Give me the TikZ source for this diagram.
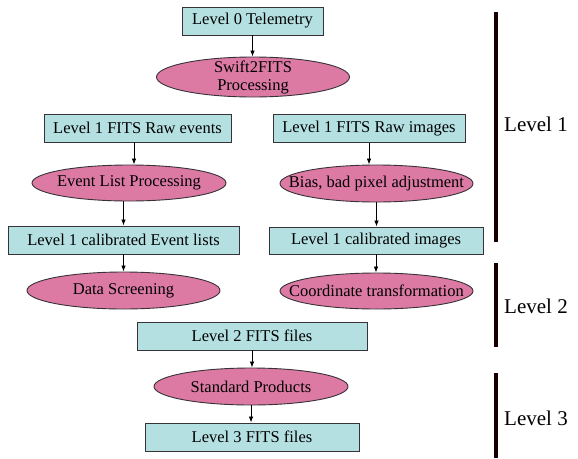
\documentclass[tikz,border=0pt]{standalone}
\usepackage{fontspec}
\setmainfont{Liberation Serif}
\newfontfamily\serf{Liberation Serif}
\usetikzlibrary{shapes.geometric,arrows.meta,backgrounds}
\definecolor{boxc}{RGB}{180,224,226}
\definecolor{ellc}{RGB}{220,122,164}
\definecolor{bordc}{RGB}{55,50,55}
\tikzset{
  stepbox/.style={draw=bordc, fill=boxc, line width=0.9pt, inner sep=0pt,
    minimum height=28pt, font=\serf\fontsize{16.5}{19}\selectfont, align=center},
  proctext/.style={font=\serf\fontsize{16.5}{19}\selectfont, align=center, inner sep=0pt},
  procell/.style={ellipse, draw=bordc, fill=ellc, line width=0.9pt, inner sep=0pt},
  arr/.style={draw=black, line width=0.8pt, -{Latex[length=6pt,width=4.5pt]}},
  levbar/.style={draw=black!90!red, line width=3.5pt},
  levlab/.style={anchor=west, inner sep=0pt, font=\serf\fontsize{21}{24}\selectfont}
}
\begin{document}
\begin{tikzpicture}[x=1pt,y=-1pt]
\useasboundingbox (0,0) rectangle (578,458);
\fill[white] (0,0) rectangle (578,458);

% nodes
\node[stepbox, minimum width=141pt] (b0) at (252.5,21) {Level 0 Telemetry};
\node[procell, minimum width=193pt, minimum height=40pt,
  label={[proctext]center:Swift2FITS\\[-1pt]Processing}] (e0) at (253,77) {};

\node[stepbox, minimum width=187pt] (r1) at (137.5,128) {Level 1 FITS Raw events};
\node[stepbox, minimum width=192pt] (r2) at (369,128.5) {Level 1 FITS Raw images};

\node[procell, minimum width=194pt, minimum height=36pt,
  label={[proctext]center:Event List Processing}] (e1) at (129,183) {};
\node[procell, minimum width=193pt, minimum height=37pt,
  label={[proctext]center:Bias, bad pixel adjustment}] (e2) at (376.5,183.5) {};

\node[stepbox, minimum width=231pt] (c1) at (123.5,240) {Level 1 calibrated Event lists};
\node[stepbox, minimum width=214pt, minimum height=27pt] (c2) at (376,240.5) {Level 1 calibrated images};

\node[procell, minimum width=193pt, minimum height=37pt,
  label={[proctext]center:Data Screening}] (ds) at (123.5,290.5) {};
\node[procell, minimum width=193pt, minimum height=36pt,
  label={[proctext]center:Coordinate transformation}] (ct) at (376.5,291) {};

\node[stepbox, minimum width=230pt] (l2) at (252,336) {Level 2 FITS files};
\node[procell, minimum width=194pt, minimum height=37pt,
  label={[proctext]center:Standard Products}] (sp) at (251,386.5) {};
\node[stepbox, minimum width=214pt] (l3) at (252,437) {Level 3 FITS files};

% free arrow ends below Swift2FITS
\coordinate (t1) at (180,108);
\coordinate (t2) at (314,108);

% connectors
\draw[arr] (b0.south) -- (b0.south |- e0.north);
\begin{scope}[on background layer]
  \draw[arr] (t1 |- e0.center) -- (t1);
  \draw[arr] (t2 |- e0.center) -- (t2);
  \draw[arr] ([xshift=28.5pt]ds.center) -- ([xshift=28.5pt]ds.center |- l2.north);
  \draw[arr] ([xshift=-27.5pt]ct.center) -- ([xshift=-27.5pt]ct.center |- l2.north);
\end{scope}
\draw[arr] ([xshift=-3.5pt]r1.south) -- ([xshift=-3.5pt]r1.south |- e1.north);
\draw[arr] (r2.south) -- (r2.south |- e2.north);
\draw[arr] (e1.south -| c1.north) -- (c1.north);
\draw[arr] (e2.south) -- (e2.south |- c2.north);
\draw[arr] (c1.south) -- (c1.south |- ds.north);
\draw[arr] (c2.south) -- (c2.south |- ct.north);
\draw[arr] (l2.south) -- (l2.south |- sp.north);
\draw[arr] (sp.south) -- (sp.south |- l3.north);

% level bars and labels
\coordinate (v1a) at (496,12);  \coordinate (v1b) at (496,242);
\coordinate (v2a) at (496,263); \coordinate (v2b) at (496,347);
\coordinate (v3a) at (496,373); \coordinate (v3b) at (496,458);
\draw[levbar] (v1a) -- (v1b);
\draw[levbar] (v2a) -- (v2b);
\draw[levbar] (v3a) -- (v3b);
\node[levlab] (lv1) at (504,124) {Level 1};
\node[levlab] (lv2) at (504,306) {Level 2};
\node[levlab] (lv3) at (504,418) {Level 3};
\end{tikzpicture}
\end{document}
